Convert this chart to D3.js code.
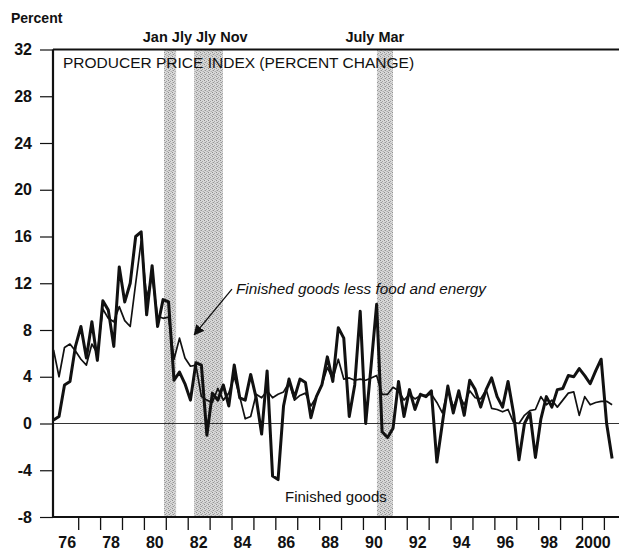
<!DOCTYPE html>
<html><head><meta charset="utf-8">
<script src="https://cdn.jsdelivr.net/npm/d3@7"></script>
<style>
body{margin:0;background:#fff}
svg{display:block}
text{font-family:"Liberation Sans",Arial,Helvetica,sans-serif;fill:#111}
</style>
</head><body>
<svg id="c" width="620" height="556"></svg>
<script>
// ---- data ----
const startQuarter = 1975.875; // 1975 Q4 (mid-quarter), quarterly observations
const finishedGoods = [
  0.3, 0.6, 3.3, 3.6, 6.6, 8.3, 5.6, 8.7, 5.4, 10.5, 9.7, 6.6, 13.4, 10.4, 12.0, 16.0, 16.4, 9.3, 13.5, 8.3, 10.6, 10.4, 3.7,
  4.4, 3.4, 2.0, 5.2, 5.0, -1.0, 2.6, 2.0, 3.3, 1.5,
  5.0, 2.2, 2.0, 4.2, 2.2, -0.9, 4.5, -4.5, -4.8, 1.5,
  3.8, 2.2, 3.8, 3.5, 0.5, 2.3, 3.3, 5.7, 3.6, 8.2,
  7.3, 0.6, 3.3, 9.6, 0.0, 5.0, 10.2, -0.7, -1.2, -0.4,
  3.6, 0.6, 2.9, 1.2, 2.5, 2.3, 2.8, -3.3, 0.0, 3.2,
  0.9, 2.8, 0.7, 3.7, 2.9, 1.4, 2.9, 3.9, 2.3, 1.4,
  3.6, 0.9, -3.1, 0.0, 0.9, -2.9, 0.4, 2.3, 1.4, 2.9,
  3.0, 4.1, 4.0, 4.7, 4.1, 3.4, 4.5, 5.5, 0.0, -3.0
];
const lessFoodEnergy = [
  6.3, 4.0, 6.5, 6.8, 6.2, 5.5, 5.0, 6.8, 6.0, 9.8, 9.0, 8.7, 10.0, 8.8, 8.3, 12.0, 15.6, 10.8, 12.5, 9.2, 9.0, 9.1, 5.5,
  7.3, 5.6, 4.9, 5.0, 2.3, 2.0, 1.8, 3.0, 2.0, 2.6,
  4.0, 2.3, 0.4, 0.6, 2.5, 2.2, 2.8, 2.2, 2.5, 2.7,
  3.5, 2.0, 2.4, 2.6, 1.5, 2.3, 3.3, 4.8, 3.8, 5.5,
  3.8, 3.9, 3.7, 3.8, 3.7, 3.9, 4.1, 2.5, 2.5, 3.1,
  2.8, 2.0, 2.5, 2.1, 2.4, 2.4, 2.5, 1.8, 0.9, 2.9,
  1.4, 2.5, 1.6, 2.8, 2.2, 2.1, 2.9, 1.3, 1.2, 1.0,
  1.2, 0.1, 0.0, 0.7, 1.1, 1.2, 2.3, 1.6, 2.0, 1.4,
  2.0, 2.6, 2.7, 0.7, 2.3, 1.6, 1.8, 1.9, 1.9, 1.6
];
const xTickYears = [1977,1978,1979,1980,1981,1982,1983,1984,1985,1986,1987,1988,1989,1990,1991,1992,1993,1994,1995,1996,1997,1998,1999,2000,2001];
const xLabelYears = [1976,1978,1980,1982,1984,1986,1988,1990,1992,1994,1996,1998,2000];
const xTickLabels = ["76","78","80","82","84","86","88","90","92","94","96","98","2000"];
const yTicks = [-8,-4,0,4,8,12,16,20,24,28,32];
const yTickLabels = ["-8","-4","0","4","8","12","16","20","24","28","32"];
const recessionBands = [[1980.92,1981.47],[1982.29,1983.61],[1990.64,1991.37]];
const recessionNotes = [{text:"Jan Jly Jly Nov", at:1979.95},{text:"July Mar", at:1989.2}];
const title = "PRODUCER PRICE INDEX (PERCENT CHANGE)";
const seriesLabels = {core:"Finished goods less food and energy", fg:"Finished goods"};

// ---- chart ----
const svg = d3.select("#c");
const L = 53, R = 619, T = 49.5, B = 517;
const x = d3.scaleLinear().domain([1975.85, 2001.69]).range([L, R]);
const y = d3.scaleLinear().domain([-8, 32]).range([B, T]);

// stipple pattern for recession bands
const defs = svg.append("defs");
const pat = defs.append("pattern").attr("id","stip").attr("width",4).attr("height",4).attr("patternUnits","userSpaceOnUse");
pat.append("rect").attr("width",4).attr("height",4).attr("fill","#d8d8d8");
[[0,0,"#8c8c8c"],[2,1,"#a4a4a4"],[1,2,"#969696"],[3,3,"#b0b0b0"],[2,3,"#c4c4c4"],[0,2,"#bcbcbc"]].forEach(p =>
  pat.append("rect").attr("x",p[0]).attr("y",p[1]).attr("width",1).attr("height",1).attr("fill",p[2]));

svg.selectAll("rect.band").data(recessionBands).join("rect")
  .attr("class","band")
  .attr("x", d => x(d[0])).attr("width", d => x(d[1]) - x(d[0]))
  .attr("y", T).attr("height", B - T)
  .attr("fill","url(#stip)");

// zero line
svg.append("line").attr("x1",L).attr("x2",R).attr("y1",y(0)).attr("y2",y(0))
  .attr("stroke","#333").attr("stroke-width",1.2);

// lines
const dates = finishedGoods.map((_, i) => startQuarter + i * 0.25);
const line = d3.line().x((d, i) => x(dates[i])).y(d => y(d)).curve(d3.curveLinear);
svg.append("path").datum(lessFoodEnergy).attr("d", line)
  .attr("fill","none").attr("stroke","#111").attr("stroke-width",1.7).attr("stroke-linejoin","round");
svg.append("path").datum(finishedGoods).attr("d", line)
  .attr("fill","none").attr("stroke","#111").attr("stroke-width",3).attr("stroke-linejoin","round");

// frame: top border, left axis, bottom axis
svg.append("line").attr("x1",L).attr("x2",R).attr("y1",T).attr("y2",T).attr("stroke","#111").attr("stroke-width",1.8);
svg.append("line").attr("x1",L).attr("x2",L).attr("y1",T).attr("y2",B).attr("stroke","#111").attr("stroke-width",2.2);
svg.append("line").attr("x1",L-1).attr("x2",R).attr("y1",B).attr("y2",B).attr("stroke","#111").attr("stroke-width",2.2);

// y axis ticks & labels
const yAxis = d3.axisLeft(y).tickValues(yTicks).tickSize(13).tickPadding(8)
  .tickFormat((d, i) => yTickLabels[i]);
const gy = svg.append("g").attr("transform",`translate(${L},0)`).call(yAxis);
gy.select(".domain").remove();
gy.selectAll(".tick line").attr("stroke","#111").attr("stroke-width",1.2);
gy.selectAll(".tick text").attr("font-size",16).attr("font-weight","bold")
  .attr("font-family","'Liberation Sans',Arial,sans-serif").attr("fill","#111");

// x axis ticks
const xAxis = d3.axisBottom(x).tickValues(xTickYears).tickSize(13).tickFormat("");
const gx = svg.append("g").attr("transform",`translate(0,${B})`).call(xAxis);
gx.select(".domain").remove();
gx.selectAll(".tick line").attr("stroke","#111").attr("stroke-width",1.3);
// x labels centered in each labelled year
svg.selectAll("text.xl").data(xLabelYears).join("text")
  .attr("class","xl")
  .attr("x", d => x(d + 0.5)).attr("y", 548)
  .attr("text-anchor","middle").attr("font-size",16).attr("font-weight","bold")
  .text((d, i) => xTickLabels[i]);

// texts
svg.append("text").attr("x",11).attr("y",23).attr("font-size",14).attr("font-weight","bold").text("Percent");
svg.append("text").attr("x",63).attr("y",68).attr("font-size",15.5).text(title);
svg.selectAll("text.rn").data(recessionNotes).join("text")
  .attr("class","rn").attr("x", d => x(d.at)).attr("y",42)
  .attr("font-size",14.5).attr("font-weight","bold").text(d => d.text);

// series labels & arrow
svg.append("text").attr("x",236).attr("y",294).attr("font-size",15.3).attr("font-style","italic").text(seriesLabels.core);
svg.append("text").attr("x",285).attr("y",502).attr("font-size",15).text(seriesLabels.fg);
defs.append("marker").attr("id","ah").attr("viewBox","0 0 10 10").attr("refX",9).attr("refY",5)
  .attr("markerWidth",8).attr("markerHeight",8).attr("orient","auto")
  .append("path").attr("d","M0,0 L10,5 L0,10 z").attr("fill","#111");
svg.append("line")
  .attr("x1", x(1984.02)).attr("y1", y(11.5))
  .attr("x2", x(1982.3)).attr("y2", y(7.6))
  .attr("stroke","#111").attr("stroke-width",1.3).attr("marker-end","url(#ah)");
</script>
</body></html>
